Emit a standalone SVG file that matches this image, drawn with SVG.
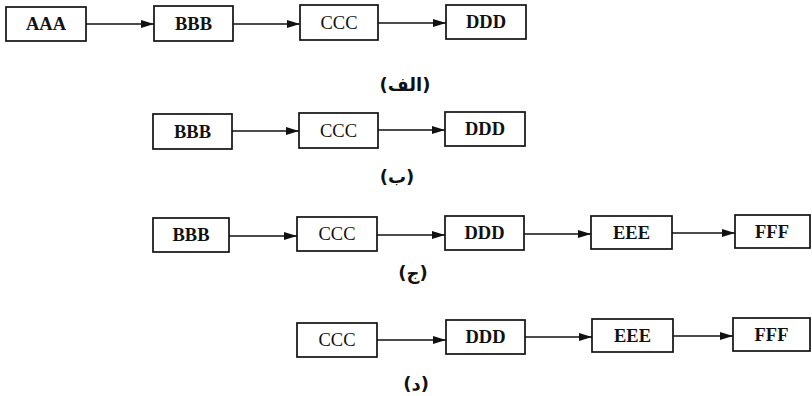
<svg xmlns="http://www.w3.org/2000/svg" width="812" height="396" viewBox="0 0 812 396">
<style>
.box{fill:#fff;stroke:#111;stroke-width:1.7}
.t{font-family:"Liberation Serif","Times New Roman",serif;font-weight:bold;font-size:18.500px;fill:#111;text-anchor:middle;dominant-baseline:central}
.r{font-weight:normal}
.lab{font-family:"DejaVu Sans",sans-serif;font-weight:bold;font-size:18px;fill:#111;text-anchor:middle;dominant-baseline:central}
.c{stroke:#111;stroke-width:1.6;fill:none;marker-end:url(#ah)}
</style>
<defs>
<marker id="ah" markerUnits="userSpaceOnUse" markerWidth="14" markerHeight="10" refX="13" refY="4" orient="auto">
<path d="M0,0 L13,4 L0,8 Z" fill="#111"/>
</marker>
</defs>
<rect width="812" height="396" fill="#fff"/>
<g id="connectors">
<line class="c" x1="86" y1="24" x2="154" y2="24"/>
<line class="c" x1="233" y1="24" x2="300" y2="24"/>
<line class="c" x1="378" y1="23" x2="446" y2="23"/>
<line class="c" x1="232" y1="131" x2="299" y2="131"/>
<line class="c" x1="378" y1="130" x2="445" y2="130"/>
<line class="c" x1="229" y1="236" x2="297" y2="236"/>
<line class="c" x1="377" y1="235" x2="445" y2="235"/>
<line class="c" x1="524" y1="234" x2="591" y2="234"/>
<line class="c" x1="672" y1="233" x2="735" y2="233"/>
<line class="c" x1="377" y1="340" x2="446" y2="340"/>
<line class="c" x1="525" y1="337" x2="592" y2="337"/>
<line class="c" x1="673" y1="336" x2="733" y2="336"/>
</g>
<g id="a-AAA"><rect class="box" x="6" y="7" width="80" height="34"/><text class="t" x="46" y="24">AAA</text></g>
<g id="a-BBB"><rect class="box" x="154" y="6" width="79" height="35"/><text class="t" x="193.500" y="23.500">BBB</text></g>
<g id="a-CCC"><rect class="box" x="300" y="5" width="78" height="35"/><text class="t r" x="339" y="22.500">CCC</text></g>
<g id="a-DDD"><rect class="box" x="446" y="5" width="80" height="34"/><text class="t" x="486" y="22">DDD</text></g>
<g id="label-a"><text class="lab" x="405" y="84">(الف)</text></g>
<g id="b-BBB"><rect class="box" x="153" y="114" width="79" height="35"/><text class="t" x="192.500" y="131.500">BBB</text></g>
<g id="b-CCC"><rect class="box" x="299" y="113" width="79" height="35"/><text class="t r" x="338.500" y="130.500">CCC</text></g>
<g id="b-DDD"><rect class="box" x="445" y="112" width="80" height="34"/><text class="t" x="485" y="129">DDD</text></g>
<g id="label-b"><text class="lab" x="397" y="176">(ب)</text></g>
<g id="c-BBB"><rect class="box" x="153" y="218" width="76" height="34"/><text class="t" x="191" y="235">BBB</text></g>
<g id="c-CCC"><rect class="box" x="297" y="217" width="80" height="34"/><text class="t r" x="337" y="234">CCC</text></g>
<g id="c-DDD"><rect class="box" x="445" y="216" width="79" height="34"/><text class="t" x="484.500" y="233">DDD</text></g>
<g id="c-EEE"><rect class="box" x="591" y="216" width="81" height="33"/><text class="t" x="631.500" y="232.500">EEE</text></g>
<g id="c-FFF"><rect class="box" x="735" y="215" width="75" height="33"/><text class="t" x="772" y="231.500">FFF</text></g>
<g id="label-c"><text class="lab" x="413" y="272">(ج)</text></g>
<g id="d-CCC"><rect class="box" x="297" y="323" width="80" height="34"/><text class="t r" x="337" y="340">CCC</text></g>
<g id="d-DDD"><rect class="box" x="446" y="320" width="79" height="34"/><text class="t" x="485.500" y="337">DDD</text></g>
<g id="d-EEE"><rect class="box" x="592" y="319" width="81" height="33"/><text class="t" x="632.500" y="335.500">EEE</text></g>
<g id="d-FFF"><rect class="box" x="733" y="318" width="77" height="33"/><text class="t" x="771.500" y="334.500">FFF</text></g>
<g id="label-d"><text class="lab" x="416" y="383">(د)</text></g>
</svg>
